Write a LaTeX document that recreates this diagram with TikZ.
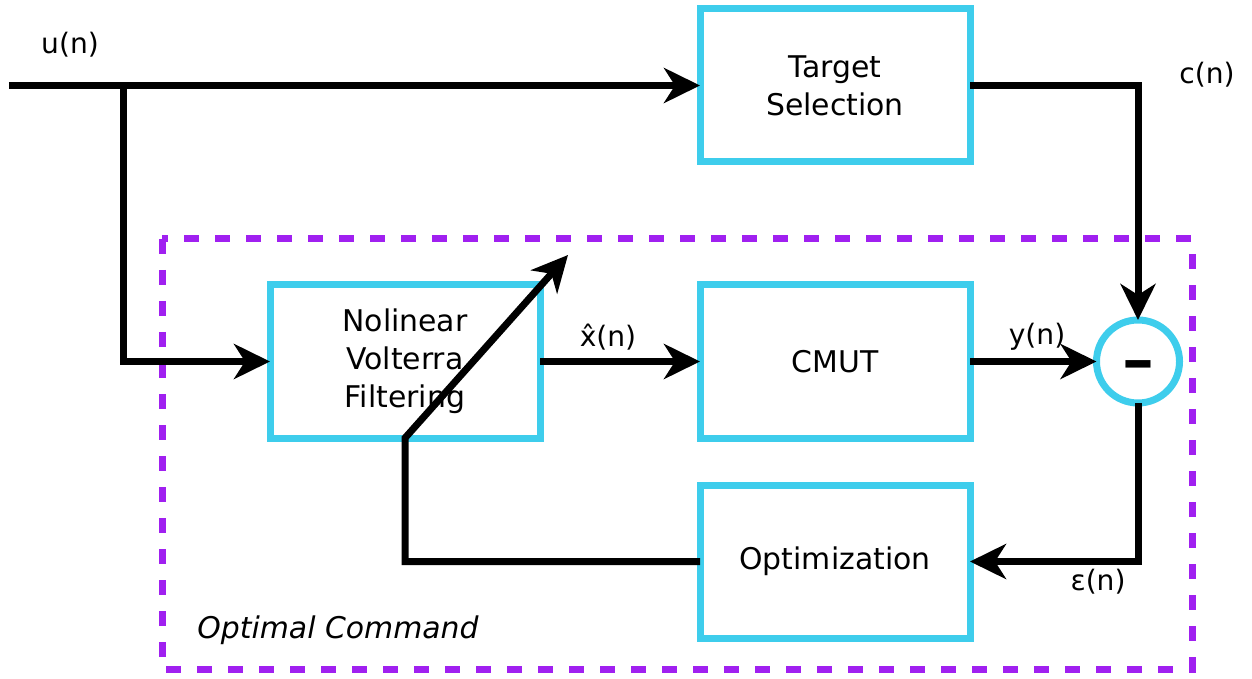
\documentclass[tikz,border=0pt]{standalone}
\usepackage{fontspec}
\usepackage{graphicx}
\setmainfont{DejaVu Sans}
\usetikzlibrary{arrows.meta,positioning}
\definecolor{celeste}{RGB}{62,205,236}
\definecolor{violeta}{RGB}{160,32,240}
\tikzset{
	bloque/.style={rectangle, draw=celeste, line width=0.14cm, outer sep=0pt, 
		minimum width=5.4cm, minimum height=3.06cm, align=center, 
		font=\fontsize{17}{21.6}\selectfont},
	sumador/.style={circle, draw=celeste, line width=0.14cm, outer sep=0pt, 
		minimum size=1.66cm, inner sep=0pt, text height=20pt, text depth=0pt, 
		font=\fontsize{30}{30}\selectfont\bfseries},
	flecha/.style={line width=0.14cm, 
		-{Stealth[length=0.72cm, width=0.7cm, inset=0.22cm]}},
	etiqueta/.style={font=\fontsize{16}{19}\selectfont},
	marco/.style={draw=violeta, line width=0.14cm, 
		dash pattern=on 0.3cm off 0.32cm}
}
\begin{document}
\begin{tikzpicture}[on grid]
	\useasboundingbox (0,0) rectangle (25.04,-13.58);
	\draw[marco] (3.24,-4.78) -- (3.24,-13.38) -- (23.84,-13.38) -- (23.84,-4.78) -- cycle;
	
	\node[bloque] (target) at (16.7,-1.71) {Target\\Selection};
	\node[bloque, below=5.52cm of target] (cmut) {CMUT};
	\node[bloque, left=8.6cm of cmut] (volterra) {Nolinear\\Volterra\\Filtering};
	\node[bloque, below=4cm of cmut] (optim) {Optimization};
	\node[sumador, right=6.06cm of cmut] (sum) {\scalebox{1.55}[1]{-}};
	
	\coordinate (entrada) at (0.18,-1.71);
	\coordinate (rama) at (2.46,-1.71);
	\coordinate[above right=3.66cm and 3.26cm of volterra.south] (ajuste);
	
	\draw[flecha] (entrada) -- (target.west);
	\draw[flecha] (rama) |- (volterra.west);
	\draw[flecha] (target.east) -| (sum.north);
	\draw[flecha] (volterra.east) -- (cmut.west);
	\draw[flecha] (cmut.east) -- (sum.west);
	\draw[flecha] (sum.south) |- (optim.east);
	\draw[flecha] (optim.west) -| (volterra.south) -- (ajuste);
	
	\node[etiqueta] at (1.4,-0.9) {u(n)};
	\node[etiqueta] at (24.14,-1.5) {c(n)};
	\node[etiqueta] at (12.16,-6.74) {x̂(n)};
	\node[etiqueta] at (20.74,-6.74) {y(n)};
	\node[etiqueta] at (21.96,-11.64) {ε(n)};
	\node[etiqueta, font=\fontsize{17}{20}\selectfont\itshape] at (6.76,-12.6) {Optimal Command};
\end{tikzpicture}
\end{document}
